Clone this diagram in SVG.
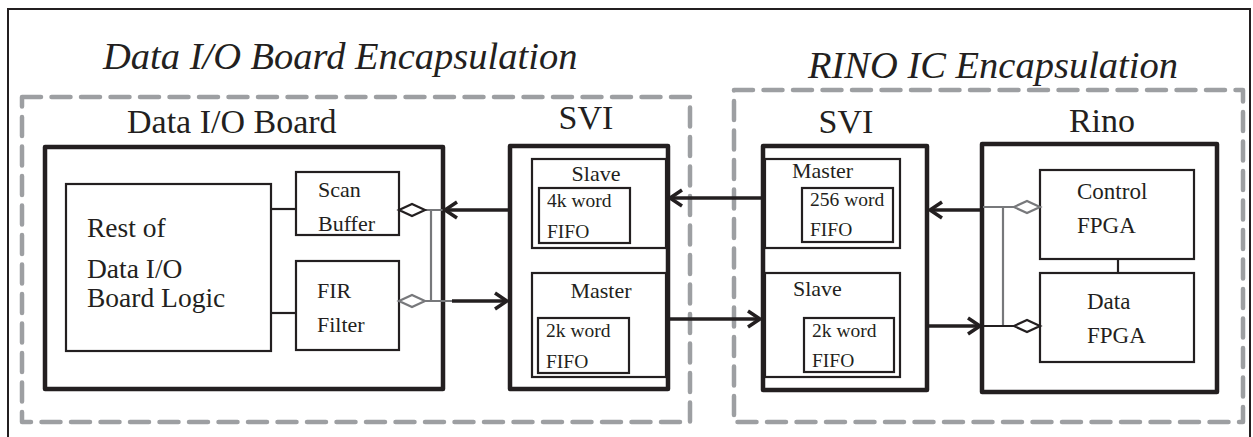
<svg xmlns="http://www.w3.org/2000/svg" width="1253" height="437" viewBox="0 0 1253 437">
  <style>
    text { font-family: "Liberation Serif", "Times New Roman", serif; fill: #231f20; }
    .title { font-size: 38.5px; font-style: italic; }
    .label { font-size: 34px; }
    .big { font-size: 27.5px; }
    .mid { font-size: 22px; }
    .small { font-size: 19.5px; }
    .frame { fill: none; stroke: #231f20; stroke-width: 2; }
    .encap { fill: none; stroke: #9d9fa2; stroke-width: 4.5; stroke-dasharray: 19 10.5; stroke-linecap: round; stroke-linejoin: round; }
    .thick { fill: #fff; stroke: #231f20; stroke-width: 4.5; stroke-linejoin: round; }
    .box { fill: #fff; stroke: #231f20; stroke-width: 2.2; }
    .wire { fill: none; stroke: #231f20; stroke-width: 2.2; }
    .bus { fill: none; stroke: #231f20; stroke-width: 3.5; }
    .tap { fill: none; stroke: #77787b; stroke-width: 2.2; }
  </style>
  <defs>
    <marker id="chev" markerUnits="userSpaceOnUse" viewBox="-16 -11 20 22" markerWidth="20" markerHeight="22" refX="0" refY="0" orient="auto">
      <path d="M-12,-8 L0,0 L-12,8" fill="none" stroke="#231f20" stroke-width="3.5" stroke-linejoin="miter"/>
    </marker>
    <marker id="dia" markerUnits="userSpaceOnUse" viewBox="-29 -9 32 18" markerWidth="32" markerHeight="18" refX="0" refY="0" orient="auto">
      <path d="M0,0 L-13,-6 L-26,0 L-13,6 Z" fill="#fff" stroke="#231f20" stroke-width="2.2"/>
    </marker>
    <marker id="diaGrey" markerUnits="userSpaceOnUse" viewBox="-29 -9 32 18" markerWidth="32" markerHeight="18" refX="0" refY="0" orient="auto">
      <path d="M0,0 L-13,-6 L-26,0 L-13,6 Z" fill="#fff" stroke="#77787b" stroke-width="2.2"/>
    </marker>
  </defs>

  <!-- page frame -->
  <path class="frame" d="M8,440 V9 H1250 V440"/>

  <!-- encapsulation regions -->
  <g id="data-io-encapsulation">
    <rect class="encap" x="22" y="97" width="668" height="325"/>
    <text class="title" x="103" y="69">Data I/O Board Encapsulation</text>
  </g>
  <g id="rino-encapsulation">
    <rect class="encap" x="734" y="90" width="509" height="332"/>
    <text class="title" x="808" y="78">RINO IC Encapsulation</text>
  </g>

  <!-- Data I/O board -->
  <g id="data-io-board">
    <text class="label" x="127" y="133">Data I/O Board</text>
    <rect class="thick" x="45" y="147" width="398" height="242"/>
  </g>
  <g id="rest-of-logic">
    <rect class="box" x="66" y="184" width="205" height="167"/>
    <text class="big" x="87" y="237">Rest of</text>
    <text class="big" x="87" y="278">Data I/O</text>
    <text class="big" x="87" y="307">Board Logic</text>
  </g>
  <g id="scan-buffer">
    <rect class="box" x="296" y="172" width="103" height="63"/>
    <text class="mid" x="318" y="197">Scan</text>
    <text class="mid" x="318" y="231">Buffer</text>
  </g>
  <g id="fir-filter">
    <rect class="box" x="296" y="261" width="103" height="89"/>
    <text class="mid" x="317" y="298">FIR</text>
    <text class="mid" x="317" y="332">Filter</text>
  </g>

  <!-- SVI on the board side -->
  <g id="svi-board">
    <text class="label" x="586" y="129" text-anchor="middle">SVI</text>
    <rect class="thick" x="510" y="146" width="158" height="243"/>
  </g>
  <g id="svi-board-slave">
    <rect class="box" x="532" y="159" width="134" height="89"/>
    <text class="mid" x="596" y="181" text-anchor="middle">Slave</text>
    <rect class="box" x="539" y="188" width="91" height="55"/>
    <text class="small" x="547" y="207">4k word</text>
    <text class="small" x="547" y="238">FIFO</text>
  </g>
  <g id="svi-board-master">
    <rect class="box" x="532" y="273" width="134" height="104"/>
    <text class="mid" x="601" y="298" text-anchor="middle">Master</text>
    <rect class="box" x="538" y="318" width="91" height="55"/>
    <text class="small" x="546" y="337">2k word</text>
    <text class="small" x="546" y="368">FIFO</text>
  </g>

  <!-- SVI on the IC side -->
  <g id="svi-ic">
    <text class="label" x="846" y="133" text-anchor="middle">SVI</text>
    <rect class="thick" x="763" y="146" width="164" height="244"/>
  </g>
  <g id="svi-ic-master">
    <rect class="box" x="765" y="159" width="135" height="89"/>
    <text class="mid" x="792" y="178">Master</text>
    <rect class="box" x="802" y="188" width="91" height="54"/>
    <text class="small" x="810" y="206">256 word</text>
    <text class="small" x="810" y="236">FIFO</text>
  </g>
  <g id="svi-ic-slave">
    <rect class="box" x="765" y="273" width="135" height="104"/>
    <text class="mid" x="793" y="296">Slave</text>
    <rect class="box" x="804" y="318" width="90" height="54"/>
    <text class="small" x="812" y="337">2k word</text>
    <text class="small" x="812" y="367">FIFO</text>
  </g>

  <!-- RINO IC -->
  <g id="rino">
    <text class="label" x="1102" y="132" text-anchor="middle">Rino</text>
    <rect class="thick" x="982" y="144" width="235" height="248"/>
  </g>
  <g id="control-fpga">
    <rect class="box" x="1040" y="170" width="154" height="89"/>
    <text class="mid" x="1077" y="199" style="font-size:23px">Control</text>
    <text class="mid" x="1077" y="233" style="font-size:23px">FPGA</text>
  </g>
  <g id="data-fpga">
    <rect class="box" x="1040" y="273" width="154" height="89"/>
    <text class="mid" x="1087" y="309" style="font-size:23px">Data</text>
    <text class="mid" x="1087" y="343" style="font-size:23px">FPGA</text>
  </g>

  <!-- connectors -->
  <g id="connectors">
    <!-- internal board links -->
    <path class="wire" d="M271,209 H296"/>
    <path class="wire" d="M271,313 H296"/>
    <path class="wire" d="M1118,259 V273"/>

    <!-- board side taps -->
    <path class="tap" d="M431,210 V301"/>
    <path class="tap" d="M443,210 H399" marker-end="url(#dia)"/>
    <path class="tap" d="M452,301 H399" marker-end="url(#diaGrey)"/>
    <path class="bus" d="M508,210 H445" marker-end="url(#chev)"/>
    <path class="bus" d="M452,301 H507" marker-end="url(#chev)"/>

    <!-- SVI to SVI -->
    <path class="bus" d="M761,198 H670" marker-end="url(#chev)"/>
    <path class="bus" d="M668,319 H760" marker-end="url(#chev)"/>

    <!-- IC side taps -->
    <path class="tap" d="M1003,207 V326"/>
    <path class="tap" d="M983,207 H1040" marker-end="url(#diaGrey)"/>
    <path class="wire" d="M983,326 H1040" marker-end="url(#dia)"/>
    <path class="bus" d="M982,210 H930" marker-end="url(#chev)"/>
    <path class="bus" d="M927,326 H980" marker-end="url(#chev)"/>
  </g>
</svg>
